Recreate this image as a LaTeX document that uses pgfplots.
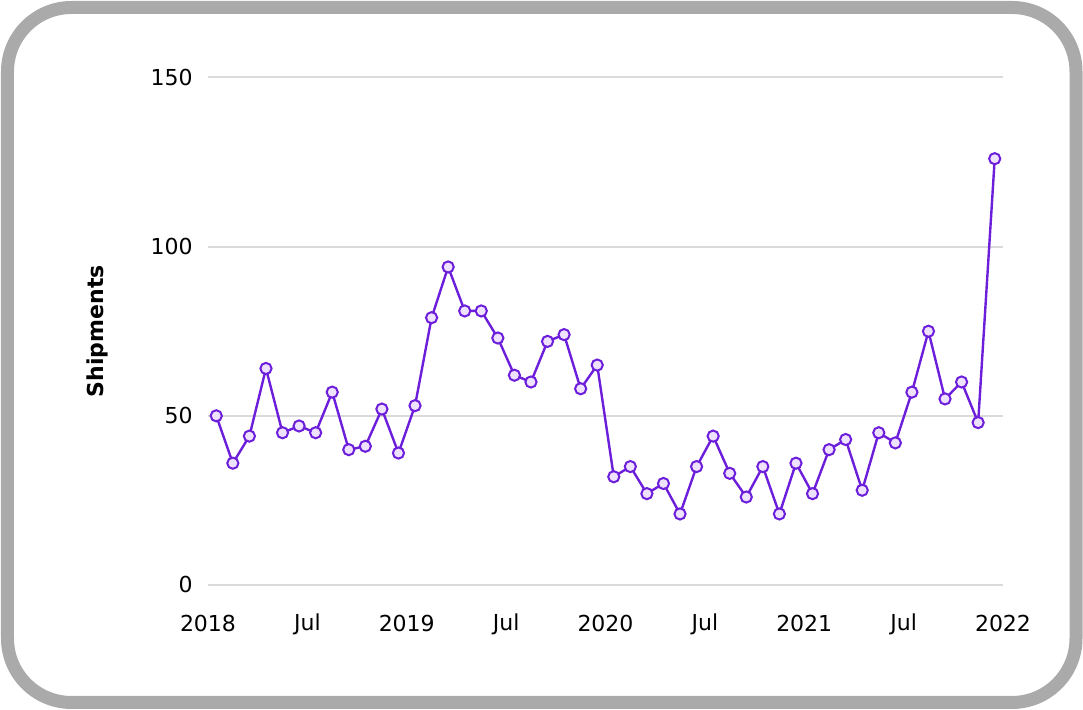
\documentclass[border=0pt]{standalone}
\usepackage{fontspec}
\setmainfont{DejaVu Sans}
\usepackage{pgfplots}
\usepackage{pgfplotstable}
\pgfplotsset{compat=1.18}

\definecolor{linepurple}{RGB}{108,30,218}
\definecolor{markfill}{RGB}{238,226,255}
\definecolor{gridgray}{RGB}{218,218,218}
\definecolor{framegray}{RGB}{170,170,170}

% monthly shipments, Jan 2018 - Dec 2021 (x = months since Jan 2018, mid-month)
\pgfplotstableread{
x     y
0.5   50
1.5   36
2.5   44
3.5   64
4.5   45
5.5   47
6.5   45
7.5   57
8.5   40
9.5   41
10.5  52
11.5  39
12.5  53
13.5  79
14.5  94
15.5  81
16.5  81
17.5  73
18.5  62
19.5  60
20.5  72
21.5  74
22.5  58
23.5  65
24.5  32
25.5  35
26.5  27
27.5  30
28.5  21
29.5  35
30.5  44
31.5  33
32.5  26
33.5  35
34.5  21
35.5  36
36.5  27
37.5  40
38.5  43
39.5  28
40.5  45
41.5  42
42.5  57
43.5  75
44.5  55
45.5  60
46.5  48
47.5  126
}\shipments

\begin{document}
\begin{tikzpicture}
\useasboundingbox (-104pt,-62.5pt) rectangle (437.5pt,292.5pt);
\draw[framegray, line width=6.5pt, rounded corners=32pt]
  (-100.25pt,-58.75pt) rectangle (434pt,288.75pt);
\begin{axis}[
  at={(0,0)}, anchor=south west,
  scale only axis,
  width=397.5pt, height=253.75pt,
  xmin=0, xmax=48, ymin=0, ymax=150,
  axis line style={draw=none},
  tick style={draw=none},
  ytick={0,50,100,150},
  ymajorgrids,
  grid style={gridgray, line width=1pt},
  xtick={0,6,...,48},
  xticklabels={2018,Jul,2019,Jul,2020,Jul,2021,Jul,2022},
  tick label style={font=\fontsize{11}{13}\selectfont, text=black},
  xticklabel style={anchor=center, yshift=-19.5pt},
  yticklabel style={anchor=east, inner sep=0pt, xshift=-7.5pt},
  /pgf/number format/assume math mode=true,
  ylabel={Shipments},
  ylabel style={font=\fontsize{11}{13}\selectfont\bfseries,
    at={(axis description cs:-0.1396,0.5)}, anchor=center, rotate=0},
  clip=false,
]
\addplot[linepurple, line width=1.2pt, mark=*, mark size=2.8pt,
  mark options={draw=linepurple, fill=markfill, line width=1pt}]
  table[x=x, y=y] {\shipments};
\end{axis}
\end{tikzpicture}
\end{document}
